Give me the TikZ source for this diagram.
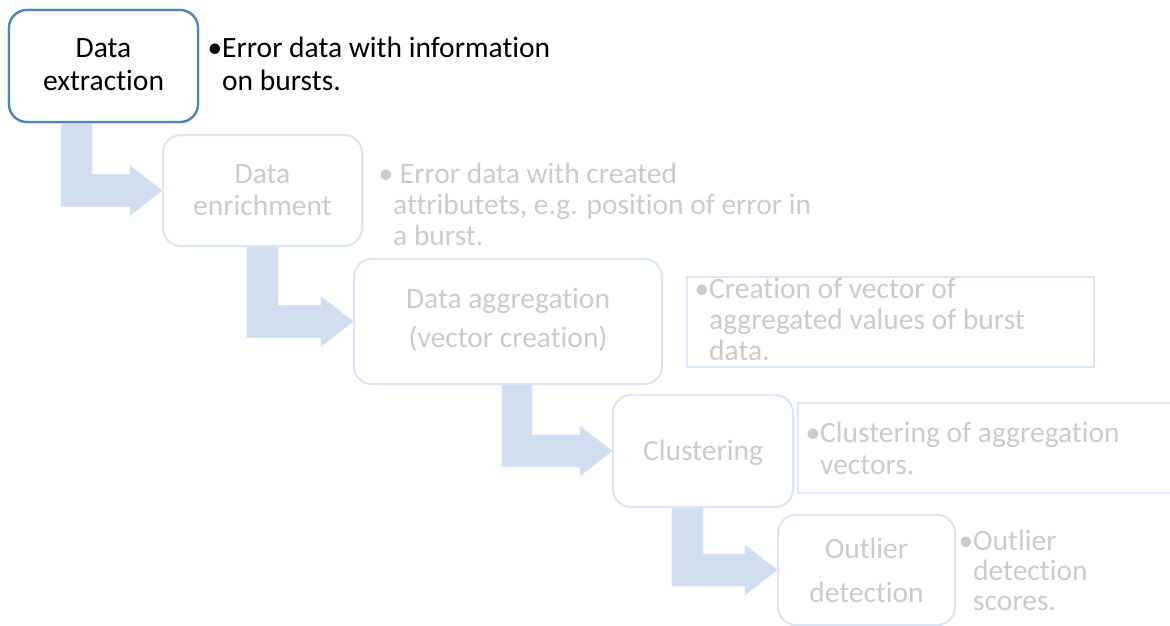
\documentclass[tikz,border=0pt]{standalone}
\usepackage{fontspec}
\setmainfont{Carlito}[Ligatures=NoCommon]
\usetikzlibrary{calc}

\definecolor{activeedge}{RGB}{79,129,189}
\definecolor{paleedge}{RGB}{220,230,242}
\definecolor{arrowfill}{RGB}{210,222,239}
\definecolor{fadedtext}{RGB}{203,203,203}

\tikzset{
  stagebox/.style={draw=paleedge, fill=white, line width=2pt, rounded corners=18pt,
    inner sep=0pt},
  activebox/.style={stagebox, draw=activeedge, line width=2.3pt},
  notebox/.style={draw=paleedge, fill=white, line width=1.5pt, inner sep=0pt},
  stagelabel/.style={anchor=base, align=center, inner sep=0pt, text=fadedtext},
  notetext/.style={anchor=base west, align=left, inner sep=0pt, text=fadedtext},
  bendfill/.style={fill=arrowfill, draw=paleedge, line width=0.8pt, line join=miter},
}

% bent block arrow: down out of #1, then right into #2; stem spans x = #3 .. #4
\newcommand\bendarrow[4]{%
  \path[bendfill] let \p1=(#1.south), \p2=(#2.west) in
    (#3pt,\y1) -- (#4pt,\y1) -- (#4pt,\y2+16pt) -- (\x2-32pt,\y2+16pt)
    -- (\x2-32pt,\y2+25pt) -- (\x2,\y2) -- (\x2-32pt,\y2-25pt)
    -- (\x2-32pt,\y2-16pt) -- (#3pt,\y2-16pt) -- cycle;
}

\begin{document}
\begin{tikzpicture}[x=1pt, y=-1pt, font=\fontsize{29.5}{33}\selectfont]
  \useasboundingbox (0,0) rectangle (1170,626);
  \clip (0,0) rectangle (1170,626);

  % stage box positions
  \node[activebox, minimum width=189pt, minimum height=112pt] (b1) at (103.5,66) {};
  \node[stagebox, minimum width=199pt, minimum height=111pt] (b2) at (262.5,190.5) {};
  \node[stagebox, minimum width=308pt, minimum height=125pt] (b3) at (508,321.5) {};
  \node[stagebox, minimum width=180pt, minimum height=112pt] (b4) at (703,451) {};
  \node[stagebox, minimum width=177pt, minimum height=110pt] (b5) at (866.5,570) {};

  % bent arrows between consecutive stages
  \bendarrow{b1}{b2}{61}{92}
  \bendarrow{b2}{b3}{247}{278}
  \bendarrow{b3}{b4}{502}{532}
  \bendarrow{b4}{b5}{672}{703}

  % redraw the stage boxes over the arrow stems
  \node[activebox, minimum width=189pt, minimum height=112pt] at (b1) {};
  \node[stagebox, minimum width=199pt, minimum height=111pt] at (b2) {};
  \node[stagebox, minimum width=308pt, minimum height=125pt] at (b3) {};
  \node[stagebox, minimum width=180pt, minimum height=112pt] at (b4) {};
  \node[stagebox, minimum width=177pt, minimum height=110pt] at (b5) {};

  % framed note areas
  \node[notebox, minimum width=407pt, minimum height=90pt] (n3) at (890.5,322) {};
  \node[notebox, minimum width=398pt, minimum height=90pt] (n4) at (997,448) {};

  % stage labels (placed by the baseline of their last line)
  \node[stagelabel, text=black, font=\fontsize{29.5}{33}\selectfont] (l1) at (103.5,91) {Data\\extraction};
  \node[stagelabel, font=\fontsize{29.5}{32}\selectfont] (l2) at (262.5,215) {Data\\enrichment};
  \node[stagelabel, font=\fontsize{29.5}{39}\selectfont] (l3) at (508,347) {Data aggregation\\(vector creation)};
  \node[stagelabel] (l4) at (703,460) {Clustering};
  \node[stagelabel, font=\fontsize{29.5}{44}\selectfont] (l5) at (866.5,602) {Outlier\\detection};

  % notes (placed by the baseline of their last line)
  \node[notetext, text=black, font=\fontsize{29.5}{33}\selectfont] (d1) at (222,91)
    {\llap{•}Error data with information\\on bursts.};
  \node[notetext, font=\fontsize{29.5}{31}\selectfont] (d2) at (393,245)
    {\llap{•}\ Error data with created\\attributets, e.g. position of error in\\a burst.};
  \node[notetext, font=\fontsize{29.5}{31}\selectfont] (d3) at (709,360)
    {\llap{•}Creation of vector of\\aggregated values of burst\\data.};
  \node[notetext, font=\fontsize{29.5}{32}\selectfont] (d4) at (820,474)
    {\llap{•}Clustering of aggregation\\vectors.};
  \node[notetext, font=\fontsize{29.5}{30}\selectfont] (d5) at (973,610)
    {\llap{•}Outlier\\detection\\scores.};
\end{tikzpicture}
\end{document}
